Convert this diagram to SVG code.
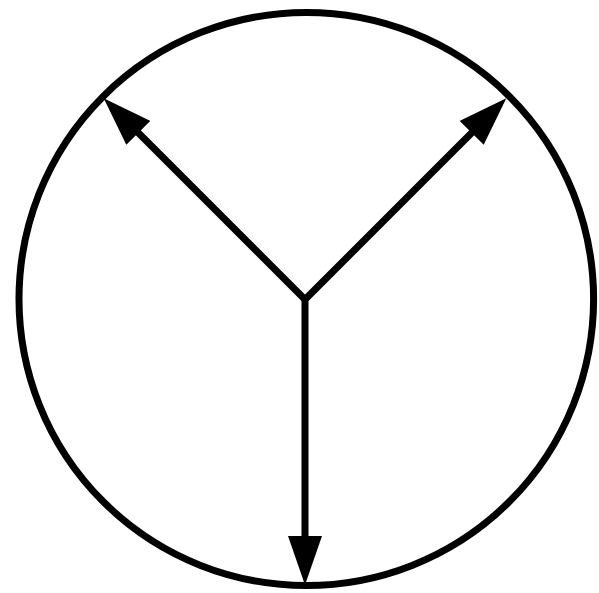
<svg xmlns="http://www.w3.org/2000/svg" width="599" height="593" viewBox="0 0 599 593">
<style>
.c{fill:none;stroke:#000;stroke-width:7}
.a{fill:none;stroke:#000;stroke-width:7;stroke-linejoin:miter}
</style>
<defs>
<marker id="ah" markerUnits="userSpaceOnUse" markerWidth="49" markerHeight="34" refX="4" refY="17" orient="auto-start-reverse" viewBox="0 0 49 34">
<path d="M0,0 L49,17 L0,34 Z" fill="#000"/>
</marker>
</defs>
<rect width="599" height="593" fill="#fff"/>
<g id="circle"><ellipse class="c" cx="306.3" cy="299" rx="287.3" ry="286.5"/></g>
<g id="connectors">
<path class="a" d="M135.5,130 L305,299.5 L474.5,130" marker-start="url(#ah)" marker-end="url(#ah)"/>
<path class="a" d="M305,299 L305,540" marker-end="url(#ah)"/>
</g>
</svg>
